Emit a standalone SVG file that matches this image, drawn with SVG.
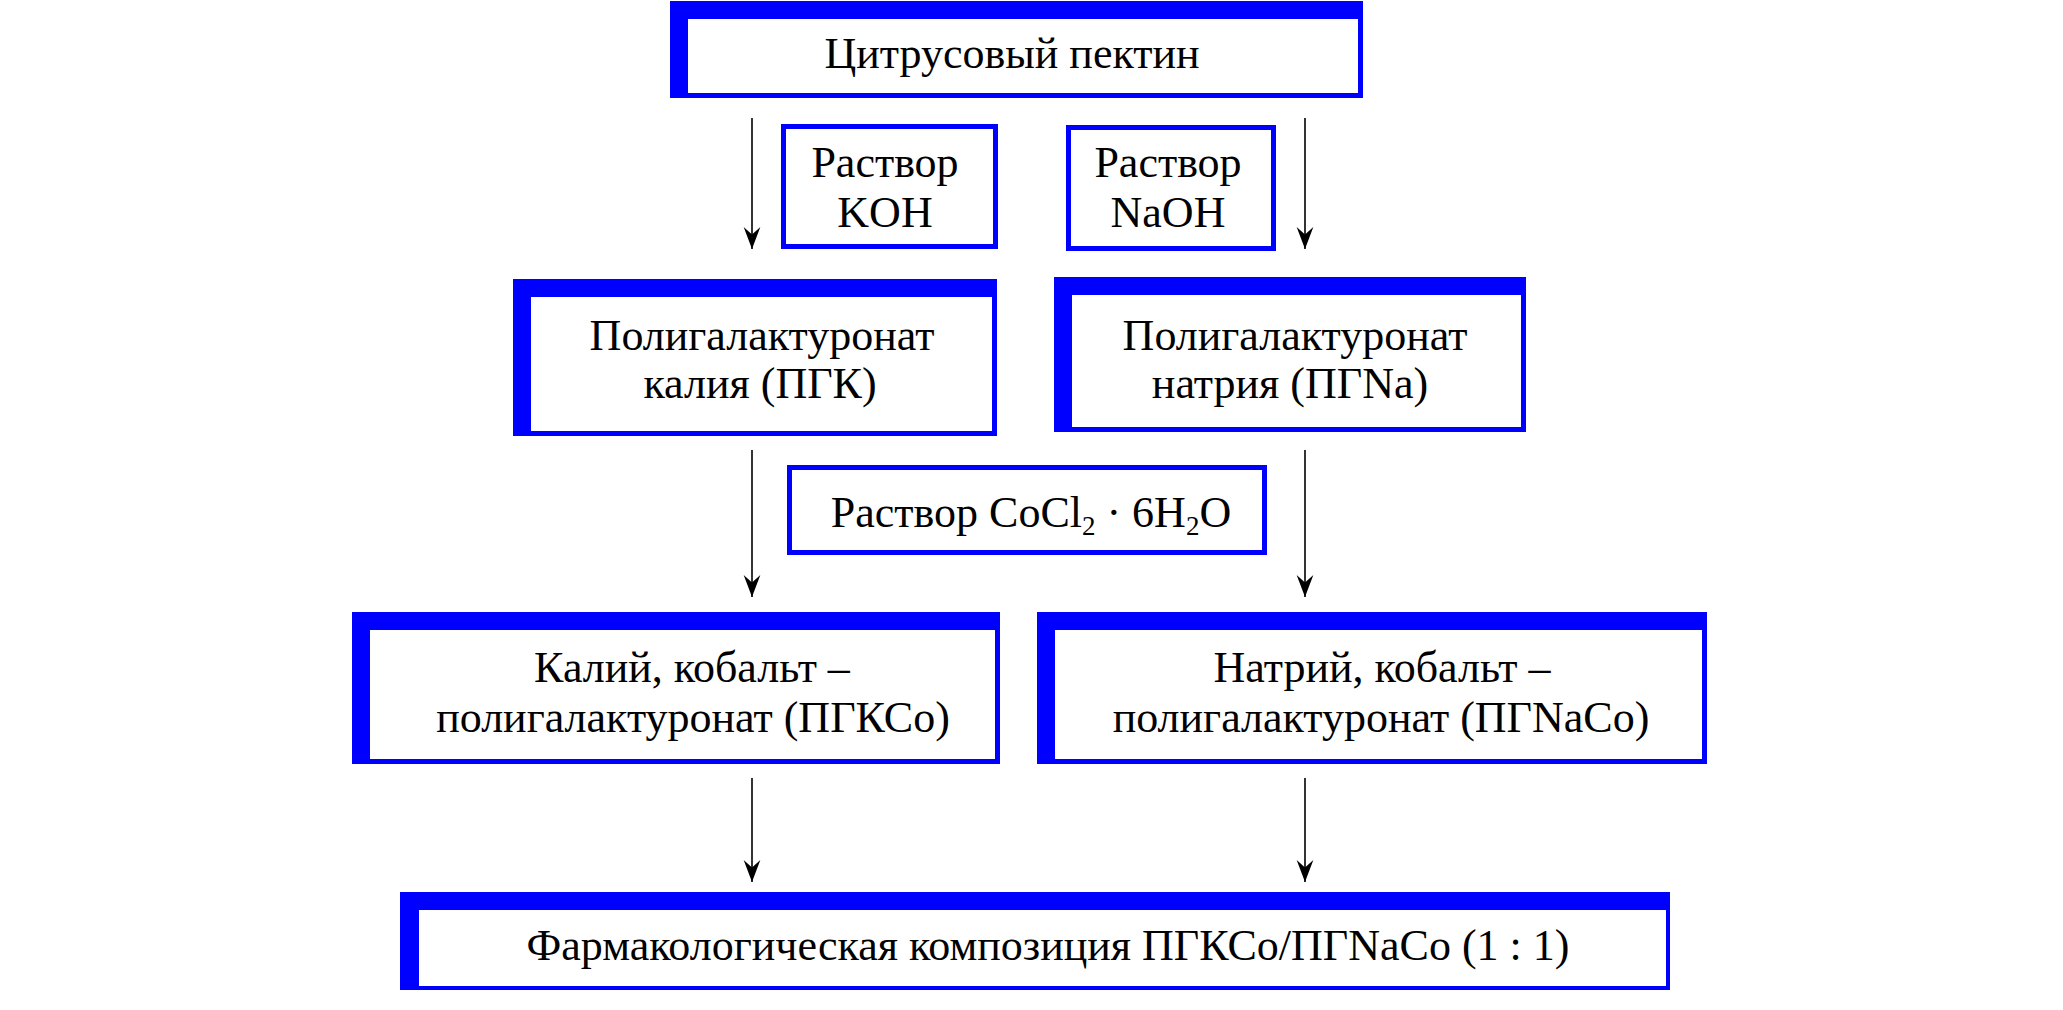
<svg xmlns="http://www.w3.org/2000/svg" width="2063" height="1010" viewBox="0 0 2063 1010">
<style>
.bg{fill:#ffffff}
.frame{fill:#0000ff;fill-rule:evenodd}
.thin{fill:#ffffff;stroke:#0000ff;stroke-width:5}
.t{font-family:"Liberation Serif","Times New Roman",serif;font-size:44px;fill:#000000;text-anchor:middle}
.sub{font-size:27px}
.conn{stroke:#000000;stroke-width:1.6;fill:none;marker-end:url(#ah)}
</style>
<defs>
<marker id="ah" markerUnits="userSpaceOnUse" markerWidth="24" markerHeight="20" viewBox="-22 -9 23 18" refX="0" refY="0" orient="auto">
<path d="M0,0 L-21,-8 L-14,0 L-21,8 Z" fill="#000000"/>
</marker>
</defs>
<rect class="bg" x="0" y="0" width="2063" height="1010"/>

<g id="node-pectin">
<rect class="bg" x="670" y="1" width="693" height="97"/>
<path class="frame" d="M670,1 H1363 V98 H670 Z M688,19 V93 H1358 V19 Z"/>
<text class="t" x="1012" y="68">Цитрусовый пектин</text>
</g>

<g id="node-koh">
<rect class="thin" x="783.5" y="126.5" width="212" height="120"/>
<text class="t" x="885" y="177">Раствор</text>
<text class="t" x="885" y="227">KOH</text>
</g>

<g id="node-naoh">
<rect class="thin" x="1068.5" y="127.5" width="205" height="121"/>
<text class="t" x="1168" y="177">Раствор</text>
<text class="t" x="1168" y="227">NaOH</text>
</g>

<g id="node-pgk">
<rect class="bg" x="513" y="279" width="484" height="157"/>
<path class="frame" d="M513,279 H997 V436 H513 Z M531,297 V431 H992 V297 Z"/>
<text class="t" x="762" y="350">Полигалактуронат</text>
<text class="t" x="760" y="398">калия (ПГК)</text>
</g>

<g id="node-pgna">
<rect class="bg" x="1054" y="277" width="472" height="155"/>
<path class="frame" d="M1054,277 H1526 V432 H1054 Z M1072,295 V427 H1521 V295 Z"/>
<text class="t" x="1295" y="350">Полигалактуронат</text>
<text class="t" x="1290" y="398">натрия (ПГNa)</text>
</g>

<g id="node-cocl2">
<rect class="thin" x="789.5" y="467.5" width="475" height="85"/>
<text class="t" x="1031" y="527">Раствор CoCl<tspan class="sub" dy="8">2</tspan><tspan dy="-8"> · 6H</tspan><tspan class="sub" dy="8">2</tspan><tspan dy="-8">O</tspan></text>
</g>

<g id="node-pgkco">
<rect class="bg" x="352" y="612" width="648" height="152"/>
<path class="frame" d="M352,612 H1000 V764 H352 Z M370,630 V759 H995 V630 Z"/>
<text class="t" x="692" y="682">Калий, кобальт –</text>
<text class="t" x="693" y="732">полигалактуронат (ПГКСо)</text>
</g>

<g id="node-pgnaco">
<rect class="bg" x="1037" y="612" width="670" height="152"/>
<path class="frame" d="M1037,612 H1707 V764 H1037 Z M1055,630 V759 H1702 V630 Z"/>
<text class="t" x="1382" y="682">Натрий, кобальт –</text>
<text class="t" x="1381" y="732">полигалактуронат (ПГNaCo)</text>
</g>

<g id="node-composition">
<rect class="bg" x="400" y="892" width="1270" height="98"/>
<path class="frame" d="M400,892 H1670 V990 H400 Z M419,910 V986 H1666 V910 Z"/>
<text class="t" x="1048" y="960">Фармакологическая композиция ПГКСо/ПГNaCo (1 : 1)</text>
</g>

<g id="connectors">
<line class="conn" x1="752" y1="118" x2="752" y2="249"/>
<line class="conn" x1="1305" y1="118" x2="1305" y2="249"/>
<line class="conn" x1="752" y1="450" x2="752" y2="597"/>
<line class="conn" x1="1305" y1="450" x2="1305" y2="597"/>
<line class="conn" x1="752" y1="778" x2="752" y2="882"/>
<line class="conn" x1="1305" y1="778" x2="1305" y2="882"/>
</g>
</svg>
